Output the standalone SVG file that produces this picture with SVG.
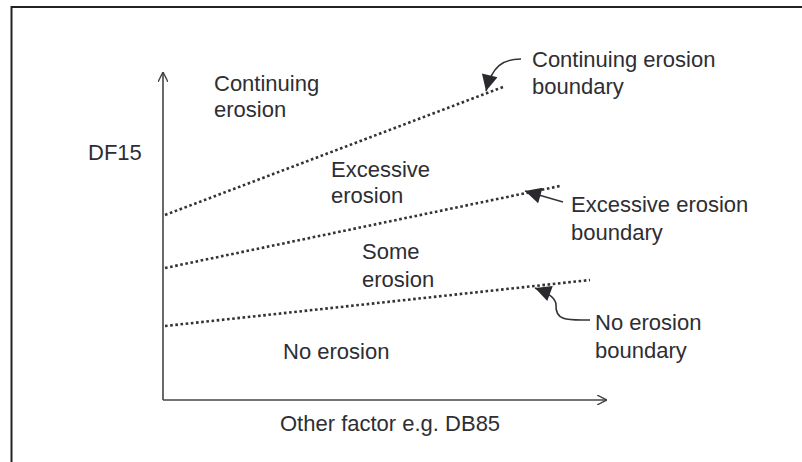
<svg xmlns="http://www.w3.org/2000/svg" width="802" height="462" viewBox="0 0 802 462">
<style>
text{font-family:"Liberation Sans",Arial,sans-serif;font-size:22px;fill:#2e2e33}
.ax{stroke:#444;stroke-width:1.6;fill:none}
.dot{stroke:#333;stroke-width:2.6;stroke-dasharray:2.6 2.6;fill:none}
.lead{stroke:#333;stroke-width:1.6;fill:none}
</style>
<defs>
<marker id="ah" viewBox="0 0 10 10" refX="10" refY="5" markerWidth="10" markerHeight="10" markerUnits="userSpaceOnUse" orient="auto"><path d="M0,0 L10,5 L0,10" fill="none" stroke="#444" stroke-width="1.4"/></marker>
<marker id="fh" viewBox="0 0 10 10" refX="10" refY="5" markerWidth="19" markerHeight="16" markerUnits="userSpaceOnUse" orient="auto"><path d="M0,0 L10,5 L0,10 z" fill="#2a2a2e"/></marker>
</defs>
<rect x="11.5" y="7" width="800" height="470" fill="#fff" stroke="#222" stroke-width="2"/>
<g id="connectors">
<line class="ax" x1="163" y1="400" x2="163" y2="72" marker-end="url(#ah)"/>
<line class="ax" x1="163" y1="400" x2="607" y2="400" marker-end="url(#ah)"/>
<line class="dot" x1="165" y1="215" x2="503" y2="87"/>
<line class="dot" x1="165" y1="268" x2="560" y2="186"/>
<line class="dot" x1="165" y1="326" x2="590" y2="280"/>
<path class="lead" d="M521,59 C503,59 492,66 486,91" marker-end="url(#fh)"/>
<path class="lead" d="M563,202 L525,191" marker-end="url(#fh)"/>
<path class="lead" d="M590,320 C570,320 555,322 556,305 C556,298 546,292 535,288" marker-end="url(#fh)"/>
</g>
<g id="region-continuing"><text x="214" y="91">Continuing</text><text x="214" y="117">erosion</text></g>
<g id="region-excessive"><text x="331" y="177">Excessive</text><text x="331" y="203">erosion</text></g>
<g id="region-some"><text x="362" y="259">Some</text><text x="362" y="287">erosion</text></g>
<g id="region-none"><text x="283" y="359">No erosion</text></g>
<g id="label-df15"><text x="88" y="160">DF15</text></g>
<g id="label-xaxis"><text x="280" y="431">Other factor e.g. DB85</text></g>
<g id="label-continuing"><text x="532" y="67">Continuing erosion</text><text x="532" y="94">boundary</text></g>
<g id="label-excessive"><text x="571" y="212">Excessive erosion</text><text x="571" y="240">boundary</text></g>
<g id="label-none"><text x="595" y="330">No erosion</text><text x="595" y="358">boundary</text></g>
</svg>
